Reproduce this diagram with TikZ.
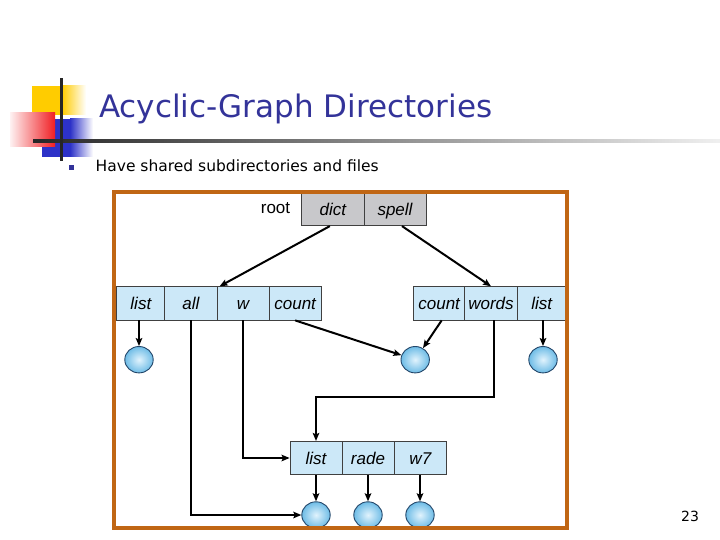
\documentclass[tikz,border=0pt]{standalone}
\usepackage{fontspec}
\setmainfont{Liberation Sans}
\newfontfamily\tahoma{DejaVu Sans}
\usetikzlibrary{shapes.geometric,arrows.meta,calc}
\definecolor{titleblue}{RGB}{51,51,153}
\definecolor{cellblue}{RGB}{204,232,248}
\definecolor{rootgray}{RGB}{200,200,203}
\definecolor{frameorange}{RGB}{192,102,20}
\definecolor{fileout}{RGB}{110,188,230}
\definecolor{filein}{RGB}{225,243,253}
\definecolor{fileedge}{RGB}{35,70,105}
\definecolor{logoyellow}{RGB}{255,204,0}
\definecolor{logoblue}{RGB}{45,50,200}
\definecolor{logored}{RGB}{240,30,35}
\begin{document}
\begin{tikzpicture}[x=1pt,y=-1pt,
  cell/.style={draw=black!75, line width=0.8pt, fill=cellblue, minimum height=33.3pt,
    inner sep=0pt, font=\fontsize{17}{20}\selectfont\itshape, text height=12pt, text depth=0pt},
  rootcell/.style={cell, fill=rootgray, minimum height=32.4pt},
  filenode/.style={ellipse, draw=fileedge, line width=0.9pt, minimum width=28.4pt,
    minimum height=26.4pt, inner sep=0pt, inner color=filein, outer color=fileout},
  arr/.style={line width=2pt, -{Stealth[length=8pt,width=6.5pt,inset=1.5pt]}}]
\useasboundingbox (0,0) rectangle (720,540);
% logo
\fill[logoyellow] (32,86) rectangle (62,115);
\shade[left color=logoyellow, right color=white] (62,86) rectangle (86,115);
\fill[logoblue] (42,119) rectangle (70,157);
\shade[left color=logoblue, right color=white] (70,119) rectangle (93,157);
\shade[left color=logored!6, right color=logored] (10,113) rectangle (55,147);
\shade[left color=black!85, right color=black!6] (33,139.6) rectangle (720,142.4);
\fill[black!85] (60,78) rectangle (62.5,161);
% title
\node[anchor=base west, inner sep=0pt, text=titleblue, font=\tahoma\fontsize{31}{36}\selectfont] (title) at (99,118) {Acyclic-Graph Directories};
\fill[titleblue] (69,165) rectangle (74,170);
\node[anchor=base west, inner sep=0pt, font=\tahoma\fontsize{15.5}{18}\selectfont] (sub) at (95.5,171.5) {Have shared subdirectories and files};
% root
\node[rootcell, minimum width=62.3pt] (dict) at (332.85,209.5) {dict};
\node[rootcell, minimum width=62pt] (spell) at (395,209.5) {spell};
\node[font=\fontsize{17}{20}\selectfont, anchor=base, inner sep=0pt] (root) at (275.5,214) {root};
% left directory
\node[cell, minimum width=48.3pt] (ll) at (140.85,303.35) {list};
\node[cell, minimum width=52.3pt] (la) at (191,303.35) {all};
\node[cell, minimum width=52pt] (lw) at (243,303.35) {w};
\node[cell, minimum width=51.7pt] (lc) at (295.15,303.35) {count};
% right directory
\node[cell, minimum width=51.7pt] (rc) at (439.15,303.35) {count};
\node[cell, minimum width=52.3pt] (rwd) at (491,303.35) {words};
\node[cell, minimum width=48.7pt] (rl) at (541.65,303.35) {list};
% bottom directory
\node[cell, minimum width=52pt] (bl) at (316,458) {list};
\node[cell, minimum width=52pt] (br) at (368,458) {rade};
\node[cell, minimum width=52.7pt] (bw) at (420.35,458) {w7};
% files
\node[filenode] (f1) at (139,359.7) {};
\node[filenode] (f2) at (415.2,359.7) {};
\node[filenode] (f3) at (543,359.7) {};
\node[filenode] (f4) at (316,515) {};
\node[filenode] (f5) at (368,515) {};
\node[filenode] (f6) at (420,515) {};
% connectors
\draw[arr] ([xshift=-3pt]dict.south) -- ([xshift=3pt]lw.north west);
\draw[arr] ([xshift=7pt]spell.south) -- (rwd.north);
\draw[arr] (f1 |- ll.south) -- (f1.north);
\draw[arr] (la.south) |- (f4.west);
\draw[arr] (lw.south) |- (bl.west);
\draw[arr] (lc.south) -- (f2);
\draw[arr] ([xshift=2.5pt]rc.south) -- (f2);
\coordinate (j) at (316,397);
\draw[arr] ([xshift=3pt]rwd.south) |- (j) -- (bl.north);
\draw[arr] (f3 |- rl.south) -- (f3.north);
\draw[arr] (f4 |- bl.south) -- (f4.north);
\draw[arr] (f5 |- br.south) -- (f5.north);
\draw[arr] (f6 |- bw.south) -- (f6.north);
% frame
\draw[frameorange, line width=4pt] (113.7,192) rectangle (567,527.5);
% page number
\node[font=\tahoma\fontsize{14}{16}\selectfont, anchor=base, inner sep=0pt] (pg) at (690,521.5) {23};
\end{tikzpicture}
\end{document}
